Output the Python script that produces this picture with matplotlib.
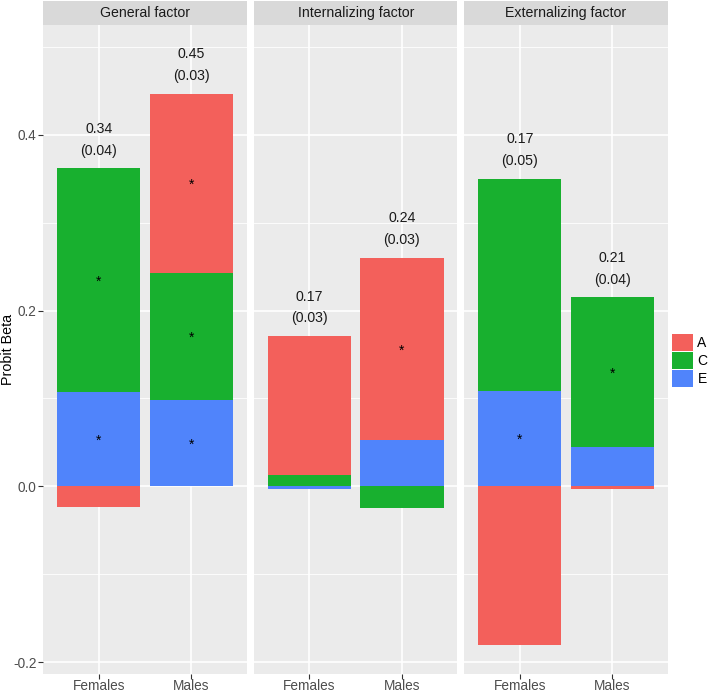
import numpy as np
import matplotlib.pyplot as plt
from matplotlib.patches import Patch

plt.rcParams['font.family'] = ['Liberation Sans', 'DejaVu Sans']

facets = ['General factor', 'Internalizing factor', 'Externalizing factor']
sexes = ['Females', 'Males']
components = ['A', 'C', 'E']
colors = {'A': '#F3605B', 'C': '#18B02F', 'E': '#5084FB'}

# probit betas, one row per facet, (Females, Males)
beta_A = [[-0.023, 0.204], [0.158, 0.207], [-0.180, -0.003]]
beta_C = [[0.255, 0.145], [0.013, -0.025], [0.241, 0.170]]
beta_E = [[0.107, 0.098], [-0.003, 0.053], [0.109, 0.045]]

# significance stars
sig_A = [[False, True], [False, True], [False, False]]
sig_C = [[True, True], [False, False], [False, True]]
sig_E = [[True, True], [False, False], [True, False]]

# total effect and SE printed above bars
totals = [['0.34', '0.45'], ['0.17', '0.24'], ['0.17', '0.21']]
ses = [['(0.04)', '(0.03)'], ['(0.03)', '(0.03)'], ['(0.05)', '(0.04)']]

betas = {'A': beta_A, 'C': beta_C, 'E': beta_E}
sigs = {'A': sig_A, 'C': sig_C, 'E': sig_E}

W, H = 709, 693
fig = plt.figure(figsize=(W / 100, H / 100), dpi=100)

panel_left = [43.3, 254.0, 464.3]
panel_w = 203.4
panel_top, panel_bot = 25.0, 673.5
strip_h = 24.5

for f, facet in enumerate(facets):
    ax = fig.add_axes([panel_left[f] / W, 1 - panel_bot / H,
                       panel_w / W, (panel_bot - panel_top) / H])
    ax.set_facecolor('#EBEBEB')
    for s in ax.spines.values():
        s.set_visible(False)

    x = np.arange(1, len(sexes) + 1)
    pos_base = np.zeros(len(sexes))
    neg_base = np.zeros(len(sexes))
    # ggplot stacks last level at the bottom
    for comp in components[::-1]:
        vals = np.array(betas[comp][f])
        bottoms = np.where(vals >= 0, pos_base, neg_base)
        ax.bar(x, vals, bottom=bottoms, width=0.9, color=colors[comp],
               linewidth=0, zorder=3)
        for i in range(len(sexes)):
            if sigs[comp][f][i]:
                ax.text(x[i], bottoms[i] + vals[i] / 2, '*', ha='center',
                        va='center_baseline', fontsize=10, color='black', zorder=4)
        pos_base = pos_base + np.where(vals >= 0, vals, 0)
        neg_base = neg_base + np.where(vals < 0, vals, 0)

    for i in range(len(sexes)):
        ax.text(x[i], pos_base[i] + 0.045, totals[f][i], ha='center', va='center',
                fontsize=10.2, color='#1A1A1A')
        ax.text(x[i], pos_base[i] + 0.020, ses[f][i], ha='center', va='center',
                fontsize=10.2, color='#1A1A1A')

    ax.set_xlim(0.4, 2.6)
    ax.set_ylim(-0.213, 0.525)
    ax.set_xticks(x)
    ax.set_xticklabels(sexes)
    ax.set_yticks([-0.2, 0.0, 0.2, 0.4])
    ax.set_yticks([-0.1, 0.1, 0.3, 0.5], minor=True)
    ax.grid(which='major', color='white', linewidth=1.2, zorder=0)
    ax.grid(which='minor', axis='y', color='white', linewidth=0.6, zorder=0)
    ax.set_axisbelow(True)
    ax.tick_params(axis='both', which='major', length=3.5, width=0.8,
                   color='#333333', labelsize=9.8, labelcolor='#4D4D4D', pad=1.5)
    ax.tick_params(axis='x', which='major', pad=0.5)
    ax.tick_params(axis='both', which='minor', length=0)
    if f == 0:
        ax.set_yticklabels(['-0.2', '0.0', '0.2', '0.4'])
    else:
        ax.tick_params(axis='y', which='major', length=0, labelleft=False)

    sax = fig.add_axes([panel_left[f] / W, 1 - panel_top / H,
                        panel_w / W, strip_h / H])
    sax.set_facecolor('#D9D9D9')
    sax.set_xticks([])
    sax.set_yticks([])
    for s in sax.spines.values():
        s.set_visible(False)
    sax.text(0.5, 0.48, facet, ha='center', va='center', fontsize=10.2,
             color='#1A1A1A', transform=sax.transAxes)

fig.text(8 / W, 1 - (panel_top + panel_bot) / 2 / H, 'Probit Beta', rotation=90,
         ha='center', va='center', fontsize=10.3, color='black')

handles = [Patch(facecolor=colors[c], edgecolor='none') for c in components]
fig.legend(handles, components, loc='center left',
           bbox_to_anchor=(672.3 / W, 1 - 360.5 / H), frameon=False,
           fontsize=10, handlelength=1.51, handleheight=1.45,
           labelspacing=0.1, handletextpad=0.3, borderpad=0, borderaxespad=0)

fig.savefig('out.png', dpi=100)
